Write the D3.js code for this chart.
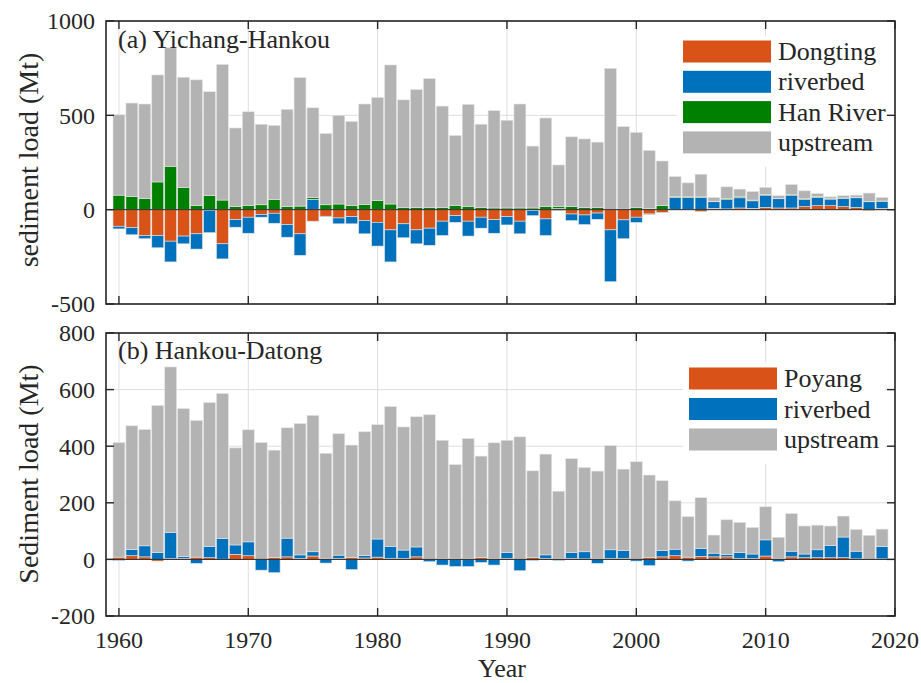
<!DOCTYPE html>
<html><head><meta charset="utf-8">
<script src="https://cdn.jsdelivr.net/npm/d3@7"></script>
<style>body{margin:0;background:#fff}svg{display:block}text{font-family:"Liberation Serif","Times New Roman",serif;fill:#262626}</style>
</head><body><svg id="c" width="921" height="683"></svg>
<script>
const years = d3.range(1960, 2020);
// Panel (a) Yichang-Hankou
const dongting = [-88,-95,-137,-137,-167,-140,-128,-3,-181,-53,-40,-26,-19,-79,-128,-61,-35,-44,-37,-58,
  -67,-107,-75,-107,-98,-61,-32,-61,-40,-53,-37,-61,-5,-49,-4,-23,-28,-18,-107,-54,
  -40,-23,-14,2,2,-10,7,4,9,7,12,9,9,16,21,21,16,12,-5,7];
const riverbedA = [-14,-38,-17,-65,-110,-41,-81,-119,-80,-40,-85,-14,-53,-67,-114,55,-2,-31,-38,-70,
  -126,-170,-74,-74,-91,-76,-35,-79,-58,-72,-44,-67,-27,-88,6,-35,-51,-33,-275,-100,
  -28,-2,-2,63,63,65,35,49,54,40,65,49,68,38,44,35,44,51,42,37];
const hanRiver = [77,70,60,147,230,118,21,74,51,16,23,26,54,16,19,9,26,30,21,28,
  49,30,12,12,12,12,23,18,12,9,9,9,9,18,10,16,12,12,2,3,
  12,7,21,4,3,3,3,7,5,4,3,2,2,5,4,2,2,2,2,2];
const upstreamA = [426,495,500,567,628,584,667,551,719,417,496,427,393,516,681,476,378,470,447,532,
  546,737,570,625,683,537,370,540,441,516,465,551,328,468,221,370,363,346,747,437,
  398,307,237,107,74,120,20,61,41,45,38,14,54,41,17,10,12,12,44,19];
// Panel (b) Hankou-Datong
const poyang = [8,13,9,-6,3,4,8,6,1,18,13,0,7,9,4,12,3,4,7,5,
  8,4,4,9,1,2,2,2,7,2,4,1,6,4,2,4,2,2,4,4,
  1,6,9,13,8,11,9,9,4,4,12,2,9,6,6,6,6,2,1,2];
const riverbedB = [-4,22,39,24,92,7,-14,40,73,33,49,-38,-47,66,12,15,-13,11,-36,9,
  64,42,29,35,-8,-20,-25,-25,-11,-20,20,-40,-4,12,-4,21,25,-14,30,27,
  -6,-22,22,23,-6,27,13,9,21,15,57,-8,20,13,28,43,73,27,-1,43];
const upstreamB = [405,437,411,520,585,522,483,508,512,343,396,413,379,390,464,482,372,429,397,437,
  404,494,435,460,510,419,333,425,358,410,397,432,307,356,239,331,298,310,368,288,
  344,292,247,171,143,180,64,122,106,94,117,76,133,99,87,69,74,77,84,62];

const xTicks = [1960,1970,1980,1990,2000,2010,2020];
const yTicksA = [-500,0,500,1000];
const yTicksB = [-200,0,200,400,600,800];

const colors = {orange:"#D95319", blue:"#0072BD", green:"#008000", grey:"#B3B3B3"};

const svg = d3.select("#c");
const x = d3.scaleLinear().domain([1959, 2020]).range([106, 895]);
const pitch = x(1) - x(0);
const bw = pitch * 0.92;

function panel(cfg){
  const y = d3.scaleLinear().domain(cfg.ydom).range([cfg.bottom, cfg.top]);
  const g = svg.append("g");
  g.selectAll(".gx").data(xTicks).join("line")
    .attr("x1", d=>x(d)).attr("x2", d=>x(d)).attr("y1", cfg.top).attr("y2", cfg.bottom)
    .attr("stroke", "#dedede").attr("stroke-width", 1);
  g.selectAll(".gy").data(cfg.yticks).join("line")
    .attr("x1", x.range()[0]).attr("x2", x.range()[1]).attr("y1", d=>y(d)).attr("y2", d=>y(d))
    .attr("stroke", "#dedede").attr("stroke-width", 1);
  const rows = years.map((yr,i)=>{ const o={year:yr}; cfg.series.forEach(s=>o[s.key]=s.values[i]); return o; });
  const stack = d3.stack().keys(cfg.series.map(s=>s.key)).offset(d3.stackOffsetDiverging);
  const layers = stack(rows);
  layers.forEach((layer, li)=>{
    g.append("g").selectAll("rect").data(layer).join("rect")
      .attr("x", d=>x(d.data.year) - bw/2)
      .attr("width", bw)
      .attr("y", d=>y(Math.max(d[0], d[1])))
      .attr("height", d=>Math.abs(y(d[0]) - y(d[1])))
      .attr("fill", cfg.series[li].color)
      .attr("stroke", "#e4e4e4").attr("stroke-width", 0.6);
  });
  g.append("line").attr("x1", x.range()[0]).attr("x2", x.range()[1])
    .attr("y1", y(0)).attr("y2", y(0)).attr("stroke", "#262626").attr("stroke-width", 1);
  const lg = g.append("g");
  lg.append("rect").attr("x", cfg.leg.x - 6).attr("y", cfg.leg.y - 16)
    .attr("width", 895 - (cfg.leg.x - 6) - 10).attr("height", cfg.series.length * cfg.leg.dy + 10)
    .attr("fill", "#fff");
  cfg.series.forEach((s, i)=>{
    const cy = cfg.leg.y + i * cfg.leg.dy;
    lg.append("rect").attr("x", cfg.leg.x).attr("y", cy - 11).attr("width", 88).attr("height", 22)
      .attr("fill", s.color);
    lg.append("text").attr("x", cfg.leg.x + 95).attr("y", cy).attr("dy", "0.33em")
      .style("font-size", "26px").text(s.label);
  });
  g.append("rect").attr("x", x.range()[0]).attr("y", cfg.top)
    .attr("width", x.range()[1] - x.range()[0]).attr("height", cfg.bottom - cfg.top)
    .attr("fill", "none").attr("stroke", "#262626").attr("stroke-width", 1.6);
  const tl = 8;
  xTicks.forEach(t=>{
    g.append("line").attr("x1", x(t)).attr("x2", x(t)).attr("y1", cfg.bottom).attr("y2", cfg.bottom - tl)
      .attr("stroke", "#262626").attr("stroke-width", 1.4);
    g.append("line").attr("x1", x(t)).attr("x2", x(t)).attr("y1", cfg.top).attr("y2", cfg.top + tl)
      .attr("stroke", "#262626").attr("stroke-width", 1.4);
  });
  cfg.yticks.forEach(t=>{
    g.append("line").attr("x1", x.range()[0]).attr("x2", x.range()[0] + tl).attr("y1", y(t)).attr("y2", y(t))
      .attr("stroke", "#262626").attr("stroke-width", 1.4);
    g.append("line").attr("x1", x.range()[1]).attr("x2", x.range()[1] - tl).attr("y1", y(t)).attr("y2", y(t))
      .attr("stroke", "#262626").attr("stroke-width", 1.4);
  });
  g.selectAll(".yl").data(cfg.yticks).join("text")
    .attr("x", 95).attr("y", d=>y(d)).attr("dy", "0.35em").attr("text-anchor", "end")
    .style("font-size", "24px").text(d=>d);
  if (cfg.xlabels){
    g.selectAll(".xl").data(xTicks).join("text")
      .attr("x", d=>x(d)).attr("y", 648).attr("text-anchor", "middle")
      .style("font-size", "24px").text(d=>d);
  }
  g.append("text").attr("transform", `translate(38,${cfg.ylabY}) rotate(-90)`)
    .attr("text-anchor", "middle").style("font-size", "28px").text(cfg.ylabel);
  g.append("text").attr("x", 118).attr("y", cfg.titleY).style("font-size", "26px").text(cfg.title);
}

panel({
  top: 21, bottom: 304, ydom: [-500, 1000], yticks: yTicksA,
  series: [
    {key:"Dongting", label:"Dongting", values:dongting, color:colors.orange},
    {key:"riverbed", label:"riverbed", values:riverbedA, color:colors.blue},
    {key:"Han", label:"Han River", values:hanRiver, color:colors.green},
    {key:"upstream", label:"upstream", values:upstreamA, color:colors.grey}
  ],
  leg: {x: 683, y: 51.5, dy: 30.3},
  ylabel: "sediment load (Mt)", ylabY: 160,
  title: "(a) Yichang-Hankou", titleY: 48, xlabels: false
});
panel({
  top: 333, bottom: 616, ydom: [-200, 800], yticks: yTicksB,
  series: [
    {key:"Poyang", label:"Poyang", values:poyang, color:colors.orange},
    {key:"riverbed", label:"riverbed", values:riverbedB, color:colors.blue},
    {key:"upstream", label:"upstream", values:upstreamB, color:colors.grey}
  ],
  leg: {x: 689, y: 378.5, dy: 30.5},
  ylabel: "Sediment load (Mt)", ylabY: 474,
  title: "(b) Hankou-Datong", titleY: 359, xlabels: true
});
svg.append("text").attr("x", 502).attr("y", 677).attr("text-anchor", "middle")
  .style("font-size", "26px").text("Year");
</script></body></html>
